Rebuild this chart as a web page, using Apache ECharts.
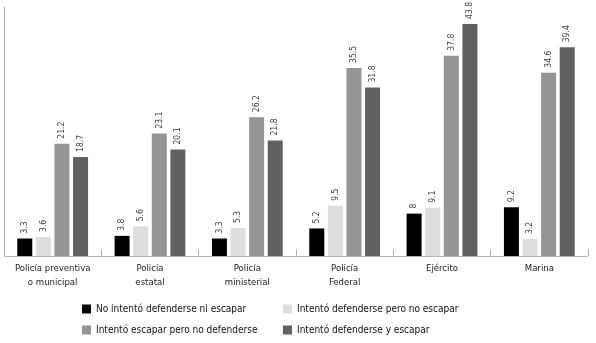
<!DOCTYPE html>
<html>
<head>
<meta charset="utf-8">
<script src="https://cdn.jsdelivr.net/npm/echarts@6/dist/echarts.min.js"></script>
<style>
  html, body { margin: 0; padding: 0; background: #fff; }
  #chart { width: 596px; height: 343px; }
</style>
</head>
<body>
<div id="chart"></div>
<script>
// categorias
var categories = ['Policía preventiva\no municipal', 'Policía\nestatal', 'Policía\nministerial', 'Policía\nFederal', 'Ejército', 'Marina'];

// series
var seriesNames = [
  'No intentó defenderse ni escapar',
  'Intentó defenderse pero no escapar',
  'Intentó escapar pero no defenderse',
  'Intentó defenderse y escapar'
];
var noIntento = [3.3, 3.8, 3.3, 5.2, 8, 9.2];
var defenderse = [3.6, 5.6, 5.3, 9.5, 9.1, 3.2];
var escapar = [21.2, 23.1, 26.2, 35.5, 37.8, 34.6];
var ambos = [18.7, 20.1, 21.8, 31.8, 43.8, 39.4];

var colors = ['#000000', '#dddddd', '#959595', '#616164'];
var fontFamily = '"DejaVu Sans Condensed", "DejaVu Sans", sans-serif';

var chart = echarts.init(document.getElementById('chart'));

var datos = [noIntento, defenderse, escapar, ambos];
var series = datos.map(function (d, i) {
  return {
    name: seriesNames[i],
    type: 'bar',
    data: d,
    barWidth: 15,
    barGap: '24%',
    itemStyle: { color: colors[i] },
    label: {
      show: true,
      position: 'top',
      rotate: 90,
      align: 'left',
      verticalAlign: 'middle',
      distance: 5,
      fontSize: 8.5,
      color: '#444',
      fontFamily: fontFamily
    }
  };
});

// una leyenda por elemento: dos columnas, dos filas
var legendPos = [[82, 304], [283, 304], [82, 325], [283, 325]];
var legends = seriesNames.map(function (n, i) {
  return {
    left: legendPos[i][0],
    top: legendPos[i][1],
    padding: 0,
    itemWidth: 9,
    itemHeight: 9,
    icon: 'rect',
    data: [n],
    textStyle: { fontSize: 10, color: '#111', fontFamily: fontFamily }
  };
});

chart.setOption({
  animation: false,
  color: colors,
  grid: { left: 4, right: 8, top: 7, bottom: 87 },
  xAxis: {
    type: 'category',
    data: categories,
    axisLine: { show: true, lineStyle: { color: '#b5b5b5', width: 1 } },
    axisTick: { show: true, inside: true, length: 7, lineStyle: { color: '#b5b5b5' } },
    axisLabel: {
      interval: 0,
      margin: 6,
      fontSize: 9.5,
      lineHeight: 14,
      color: '#222',
      fontFamily: fontFamily
    }
  },
  yAxis: {
    type: 'value',
    min: 0,
    max: 47,
    axisLine: { show: true, lineStyle: { color: '#b5b5b5', width: 1 } },
    axisTick: { show: false },
    axisLabel: { show: false },
    splitLine: { show: false }
  },
  legend: legends,
  series: series
});
</script>
</body>
</html>
